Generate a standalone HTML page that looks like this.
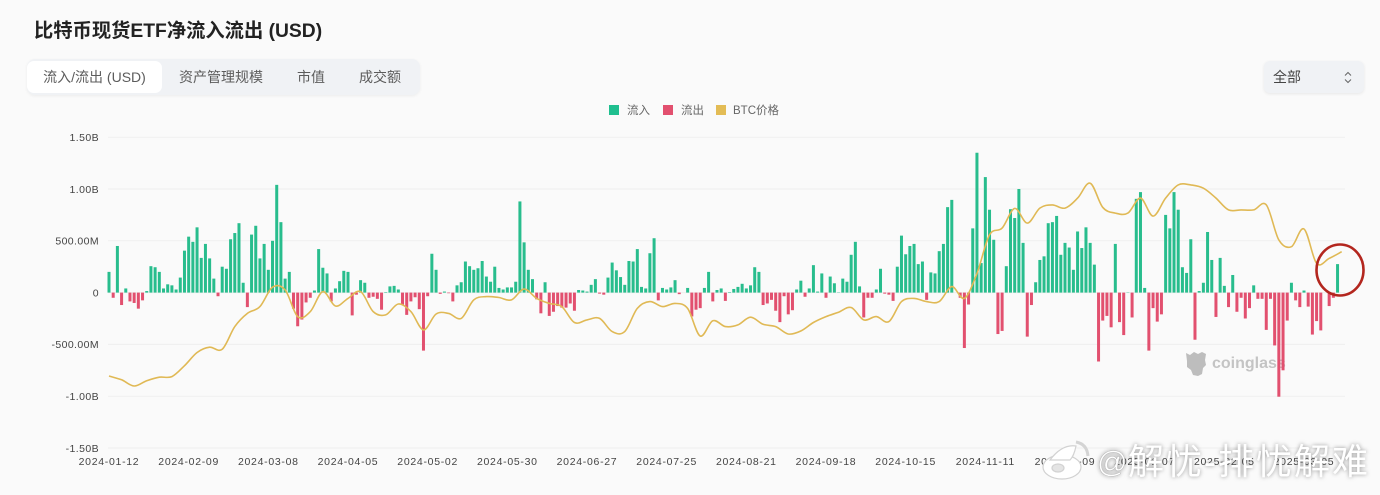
<!DOCTYPE html>
<html lang="zh">
<head>
<meta charset="utf-8">
<title>比特币现货ETF净流入流出 (USD)</title>
<style>
html,body{margin:0;padding:0;background:#fafafa;}
#page{position:relative;width:1380px;height:495px;overflow:hidden;background:#fafafa;font-family:"Liberation Sans","Noto Sans CJK SC",sans-serif;}
#title{position:absolute;left:34px;top:19px;font-size:19.3px;line-height:26px;font-weight:700;color:#222;white-space:nowrap;}
#tabs{position:absolute;left:27px;top:59px;width:393px;height:36px;background:#f0f2f5;border-radius:8px;box-shadow:0 1px 3px rgba(0,0,0,.06);}
.tab{position:absolute;top:2px;height:32px;line-height:32px;font-size:14px;color:#5c5c5c;white-space:nowrap;text-align:center;}
.tab.active{background:#fff;border-radius:7px;}
#range{position:absolute;left:1264px;top:61px;width:100px;height:32px;background:#f0f2f5;border-radius:6px;box-shadow:0 1px 3px rgba(0,0,0,.08);font-size:14px;line-height:32px;color:#444;}
#range span.lbl{position:absolute;left:9px;top:0;}
#chart{position:absolute;left:0;top:0;}
</style>
</head>
<body>
<div id="page">
  <div id="title">比特币现货ETF净流入流出 (USD)</div>
  <div id="tabs">
    <div class="tab active" style="left:0;width:135px">流入/流出 (USD)</div>
    <div class="tab" style="left:152px;width:84px">资产管理规模</div>
    <div class="tab" style="left:270px;width:28px">市值</div>
    <div class="tab" style="left:332px;width:42px">成交额</div>
  </div>
  <div id="range">
    <span class="lbl">全部</span>
    <svg style="position:absolute;left:79px;top:9px" width="10" height="15" viewBox="0 0 10 15"><path d="M2 5.5 5 2.5 8 5.5M2 9.5 5 12.5 8 9.5" fill="none" stroke="#666" stroke-width="1"/></svg>
  </div>
  <svg id="chart" width="1380" height="495" xmlns="http://www.w3.org/2000/svg">
    <g id="grid"></g>
    <g id="y-axis"></g>
    <g id="x-axis"></g>
    <g font-size="11.5" fill="#666">
      <g><rect x="609" y="105" width="10" height="10" fill="#1fbf8f"/><text x="627" y="114">流入</text></g>
      <g><rect x="663" y="105" width="10" height="10" fill="#e2506f"/><text x="681" y="114">流出</text></g>
      <g><rect x="716" y="105" width="10" height="10" fill="#e3bc55"/><text x="733" y="114">BTC价格</text></g>
    </g>
    <g>
      <path d="M1186 353 l4 2 4-3 4 2 4-2 4 2-1 6 1 5-3 3-1 6-4 2-5-1-2-5-4-3 0-6z" fill="#bdbdbd"/>
      <text x="1212" y="368" font-size="16" font-weight="700" fill="#c4c4c4">coinglass</text>
    </g>
    <g id="bars"></g>
    <path id="btc-line" fill="none" stroke="#e0b955" stroke-width="1.6" stroke-linejoin="round"/>
    <ellipse cx="1340" cy="270" rx="23.5" ry="25.5" fill="none" stroke="#b3261e" stroke-width="2.6"/>
    <g>
      <g fill="#fff" stroke="#d2d2d2" stroke-width="1.2">
        <ellipse cx="1062" cy="467" rx="19" ry="12"/>
        <path d="M1050 460 q12-16 26-14 q-2 10-6 14z"/>
        <path d="M1076 442 q11 2 12 14" fill="none" stroke="#d4d4d4" stroke-width="3"/>
        <ellipse cx="1058" cy="468" rx="6" ry="4" fill="#e4e4e4"/>
      </g>
      <text x="1097" y="472" font-size="30" fill="#fff" stroke="#bbb" stroke-width=".5" style="filter:drop-shadow(0 0 2px rgba(90,90,90,.55))">@</text>
      <text x="1128" y="474" font-size="36" letter-spacing="2" fill="#fff" style="font-family:'Liberation Sans','Noto Sans CJK SC',sans-serif;filter:drop-shadow(0 0 2px rgba(80,80,80,.6))">解忧-排忧解难</text>
    </g>
  </svg>
</div>
<script>
// Net daily ETF flow in USD millions, one value per trading day
var netFlows = [
200,-50,450,-120,40,-85,-100,-155,-75,15,255,245,200,40,80,70,30,145,405,540,
490,630,335,470,330,135,-35,250,230,515,575,670,95,-140,560,645,330,470,220,500,
1040,680,135,200,-155,-325,-260,-95,-50,20,420,240,185,-85,40,110,210,200,-220,-20,
120,95,-50,-40,-60,-165,5,60,65,30,-115,-215,-85,-45,-160,-560,-35,375,220,-12,
10,-6,-85,70,100,300,255,220,235,305,155,105,250,45,30,50,50,105,880,485,
220,130,-65,-200,100,-225,-185,-130,-145,-145,-105,-175,25,20,10,75,130,-10,-20,145,
290,215,150,75,305,300,420,55,40,380,525,-75,45,30,50,120,-15,0,45,-230,
-165,-150,45,200,-85,25,40,-80,5,35,55,85,40,70,245,200,-120,-105,-70,-175,
-285,-35,-210,-170,30,115,-40,40,265,10,185,-50,155,90,3,135,105,365,490,60,
-240,-50,-50,30,230,-10,-20,-80,250,550,370,450,470,275,300,-70,195,185,400,470,
825,895,0,-50,-535,-115,620,1350,285,1115,800,510,-400,-370,255,805,720,1000,480,-425,
-120,100,315,350,670,680,740,365,480,435,220,590,430,630,480,270,-665,-270,-225,-335,
470,-285,-410,3,-240,905,970,45,-560,-150,-280,-210,750,620,970,800,245,190,515,-455,
15,95,585,315,-235,335,65,-140,170,-185,-50,-250,-150,70,-60,-60,-360,-60,-510,-1005,
-750,-270,95,-75,-140,20,-135,-405,-275,-365,0,-130,-50,275
];
// BTC price in USD thousands, sampled every btcSampleEvery trading days
var btcSampleEvery = 3;
var btcPrices = [
42.0,40.7,38.6,40.4,41.6,41.8,45.5,50.0,51.8,51.1,58.8,63.3,65.6,72.2,71.3,62.2,63.9,70.7,65.8,68.4,70.7,63.9,62.8,66.5,
63.9,57.7,63.1,63.3,61.6,67.9,69.0,68.7,67.9,71.6,68.4,66.7,65.6,60.2,61.1,61.6,57.1,57.1,65.0,67.3,65.6,66.7,65.0,55.6,
60.8,58.8,59.4,62.0,59.6,58.8,56.3,57.3,60.2,62.2,63.7,65.3,61.1,62.2,60.5,67.3,68.4,67.3,67.3,72.4,68.4,76.9,90.0,92.3,99.0,
94.0,99.1,100.2,99.1,102.5,107.6,99.4,97.4,97.4,102.5,96.4,102.5,107.0,107.0,105.9,102.5,98.5,98.5,98.5,100.2,88.3,86.0,92.0,80.3,82.0,84.3
];
var yTickValues = [1500,1000,500,0,-500,-1000,-1500];
var yTickLabels = ["1.50B","1.00B","500.00M","0","-500.00M","-1.00B","-1.50B"];
var xTickEvery = 19;
var xTickLabels = ["2024-01-12","2024-02-09","2024-03-08","2024-04-05","2024-05-02","2024-05-30","2024-06-27","2024-07-25","2024-08-21","2024-09-18","2024-10-15","2024-11-11","2024-12-09","2025-01-07","2025-02-05","2025-03-05"];

var NS = "http://www.w3.org/2000/svg";
function xScale(i){ return 109 + i * 4.193; }
function yScale(v){ return 292.6 - v * 0.1036; }
function yPrice(p){ return 499.5 - p * 2.94; }
function make(tag, attrs, parent){
  var el = document.createElementNS(NS, tag);
  for (var k in attrs) el.setAttribute(k, attrs[k]);
  parent.appendChild(el);
  return el;
}

var gridG = document.getElementById("grid");
var yG = document.getElementById("y-axis");
var xG = document.getElementById("x-axis");
var barsG = document.getElementById("bars");

yTickValues.forEach(function(v, i){
  var line = make("line", {x1:108, x2:1345, y1:yScale(v), y2:yScale(v), stroke:"#efefef", "stroke-width":1}, gridG);
  
  
  var t = make("text", {x:99, y:yScale(v)+3.8, "text-anchor":"end", "font-size":10.5, "letter-spacing":0.4, fill:"#444"}, yG);
  t.textContent = yTickLabels[i];
  
  
});

xTickLabels.forEach(function(label, i){
  var t = make("text", {x:xScale(i*xTickEvery), y:465, "text-anchor":"middle", "font-size":10.5, "letter-spacing":0.7, fill:"#444"}, xG);
  t.textContent = label;
  
  
});

netFlows.forEach(function(v, i){
  if (v === 0) return;
  var y0 = yScale(0), y1 = yScale(v);
  var r = make("rect", {x:xScale(i)-1.5, y:Math.min(y0,y1), width:3, height:Math.abs(y1-y0), fill: v>0 ? "#28bd8d" : "#e2506f"}, barsG);
  
  
});

(function(){
  var pts = btcPrices.map(function(p, k){ return [xScale(k*btcSampleEvery), yPrice(p)]; });
  var d = "M" + pts[0][0].toFixed(1) + " " + pts[0][1].toFixed(1);
  for (var i = 0; i < pts.length-1; i++){
    var p0 = pts[Math.max(i-1,0)], p1 = pts[i], p2 = pts[i+1], p3 = pts[Math.min(i+2,pts.length-1)];
    var c1x = p1[0]+(p2[0]-p0[0])/6, c1y = p1[1]+(p2[1]-p0[1])/6;
    var c2x = p2[0]-(p3[0]-p1[0])/6, c2y = p2[1]-(p3[1]-p1[1])/6;
    d += "C"+c1x.toFixed(1)+" "+c1y.toFixed(1)+" "+c2x.toFixed(1)+" "+c2y.toFixed(1)+" "+p2[0].toFixed(1)+" "+p2[1].toFixed(1);
  }
  document.getElementById("btc-line").setAttribute("d", d);
})();
</script>
</body>
</html>
